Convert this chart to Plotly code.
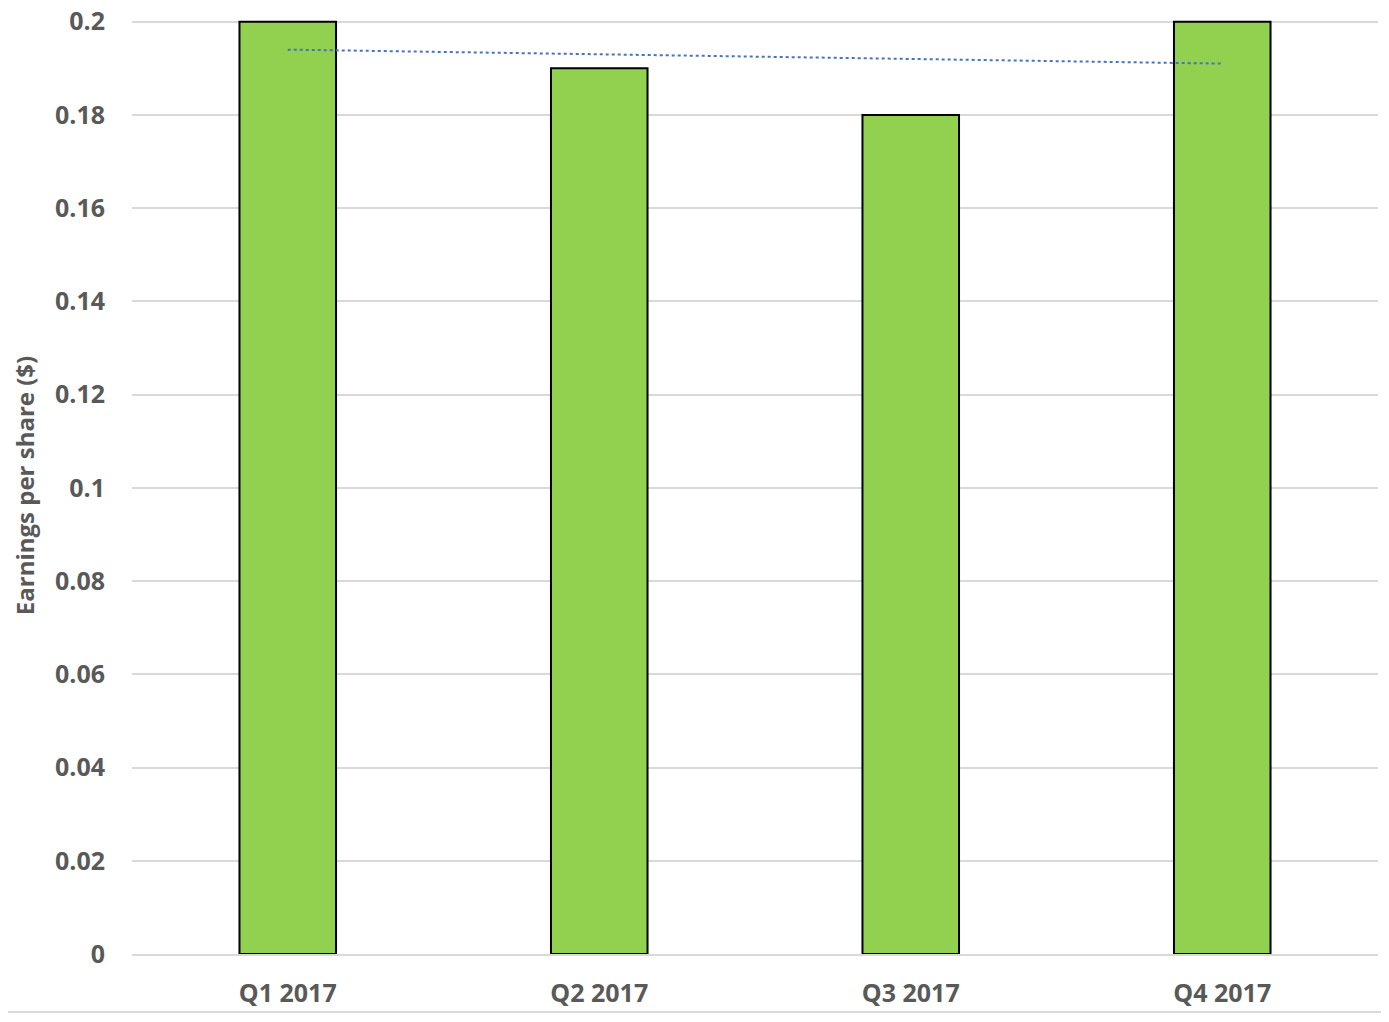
import plotly.graph_objects as go

# data
quarters = ["Q1 2017", "Q2 2017", "Q3 2017", "Q4 2017"]
eps = [0.2, 0.19, 0.18, 0.2]
trend_x = ["Q1 2017", "Q4 2017"]
trend_y = [0.194, 0.191]
y_ticks = [0, 0.02, 0.04, 0.06, 0.08, 0.1, 0.12, 0.14, 0.16, 0.18, 0.2]
y_tick_text = ["0", "0.02", "0.04", "0.06", "0.08", "0.1", "0.12", "0.14", "0.16", "0.18", "0.2"]

font_color = "#595959"
font_family = "Open Sans, Liberation Sans, sans-serif"

fig = go.Figure()

fig.add_trace(go.Bar(
    x=quarters, y=eps,
    width=0.31,
    marker=dict(color="#92D050", line=dict(color="black", width=2)),
    showlegend=False,
))

fig.add_trace(go.Scatter(
    x=trend_x, y=trend_y,
    mode="lines",
    line=dict(color="#4472C4", width=2, dash="dot"),
    showlegend=False,
))

# page body has an 8px margin, so the figure is a bit smaller than the window
fig.update_layout(
    width=1373, height=1006,
    margin=dict(l=124, r=3, t=9, b=60),
    plot_bgcolor="white",
    paper_bgcolor="white",
    font=dict(family=font_family, color=font_color, size=25),
)

fig.update_xaxes(
    showgrid=False,
    showline=True, linecolor="#d9d9d9", linewidth=2,
    tickfont=dict(size=25, color=font_color, family=font_family, weight="bold"),
    ticks="", ticklabelstandoff=16,
)

# a bit above 0.2 so the top tick and gridline are kept
fig.update_yaxes(
    range=[0, 0.201],
    tickvals=y_ticks, ticktext=y_tick_text,
    ticklabeloverflow="allow",
    automargin="left",
    showgrid=True, gridcolor="#d9d9d9", gridwidth=2,
    zeroline=False,
    tickfont=dict(size=25, color=font_color, family=font_family, weight="bold"),
    ticklabelstandoff=26,
    title=dict(text="Earnings per share ($)",
               font=dict(size=24, color=font_color, family=font_family, weight="bold"),
               standoff=20),
)

# bottom border of the chart area
fig.add_shape(type="line", xref="paper", yref="paper",
              x0=-0.2, x1=1.02, y0=-0.062, y1=-0.062,
              line=dict(color="#d9d9d9", width=2))

fig.write_html("out.html")
